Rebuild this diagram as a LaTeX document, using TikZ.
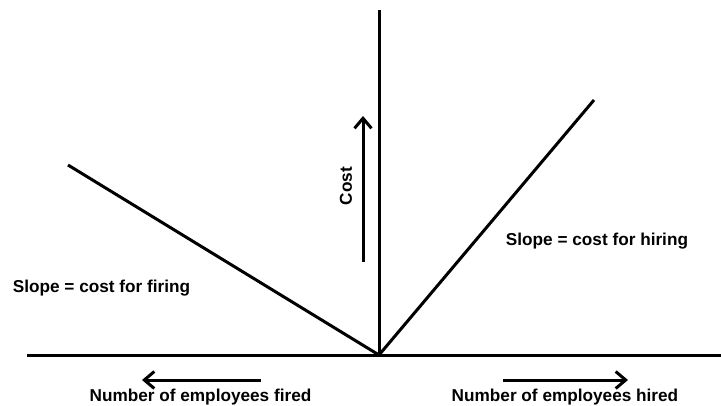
\documentclass[tikz,border=0pt]{standalone}
\usepackage{fontspec}
\setmainfont{Liberation Sans}
\usetikzlibrary{arrows.meta}
\begin{document}
\begin{tikzpicture}[x=1pt,y=-1pt,
  axis/.style={line width=3pt},
  curve/.style={line width=3pt},
  dirarrow/.style={line width=3pt,-{Straight Barb[length=10pt,width=17pt,line width=3pt]}},
  lbl/.style={font=\fontsize{17.2}{20}\selectfont\bfseries,inner sep=0pt}
]
\useasboundingbox (0,0) rectangle (721,405);
% axes
\coordinate (O) at (379,355);
\coordinate (xl) at (27,355);
\coordinate (xr) at (721,355);
\coordinate (yt) at (379,10);
\draw[axis] (xl) -- (xr);
\draw[axis] (O) -- (yt);
% cost lines
\coordinate (fire) at (68,165);
\coordinate (hire) at (594,100);
\draw[curve] (fire) -- (O) -- (hire);
% cost arrow
\coordinate (c0) at (363,262);
\coordinate (c1) at (363,116);
\draw[dirarrow] (c0) -- (c1);
\node[lbl,rotate=90] (cost) at (346,186) {Cost};
% slope labels
\node[lbl,anchor=base] (sf) at (101.5,292) {Slope = cost for firing};
\node[lbl,anchor=base] (sh) at (597,245) {Slope = cost for hiring};
% bottom arrows
\coordinate (f0) at (261,380);
\coordinate (f1) at (142,380);
\draw[dirarrow] (f0) -- (f1);
\coordinate (h0) at (503,380);
\coordinate (h1) at (628,380);
\draw[dirarrow] (h0) -- (h1);
\node[lbl,anchor=base] (nf) at (200.5,401) {Number of employees fired};
\node[lbl,anchor=base] (nh) at (565,401) {Number of employees hired};
\end{tikzpicture}
\end{document}
